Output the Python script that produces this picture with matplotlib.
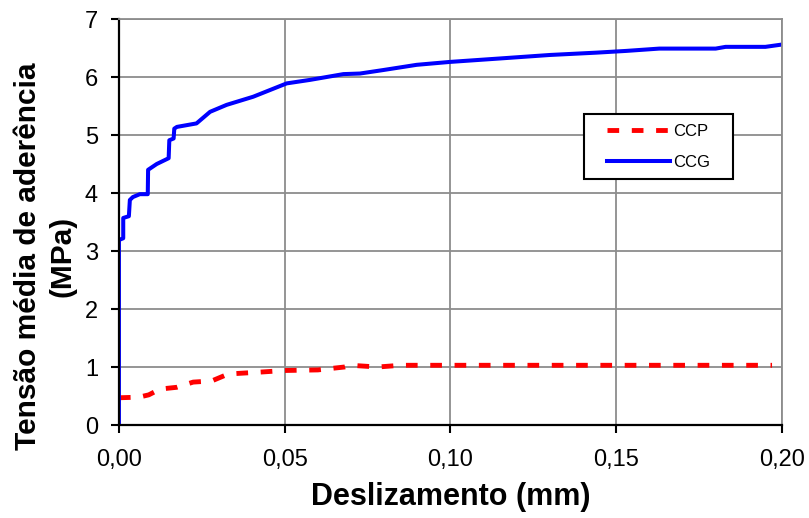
import matplotlib
matplotlib.use('Agg')
import matplotlib.pyplot as plt
from matplotlib.path import Path

plt.rcParams['font.family'] = ['Liberation Sans', 'DejaVu Sans']

# CCG - curva azul (deslizamento em mm, tensao em MPa)
ccg_x = [0.0000, 0.0000, 0.0013, 0.0013, 0.0030, 0.0033, 0.0042, 0.0063, 0.0087,
         0.0088, 0.0114, 0.0150, 0.0152, 0.0165, 0.0167, 0.0175, 0.0234, 0.0275,
         0.0325, 0.0405, 0.0506, 0.0576, 0.0677, 0.0727, 0.0797, 0.0898, 0.0998,
         0.1150, 0.1300, 0.1440, 0.1530, 0.1630, 0.1800, 0.1830, 0.1950, 0.2000]
ccg_y = [0.00, 3.19, 3.22, 3.57, 3.60, 3.88, 3.93, 3.98, 3.98,
         4.40, 4.50, 4.60, 4.91, 4.94, 5.11, 5.14, 5.20, 5.40,
         5.52, 5.66, 5.89, 5.95, 6.05, 6.06, 6.12, 6.21, 6.26,
         6.32, 6.38, 6.42, 6.45, 6.49, 6.49, 6.52, 6.52, 6.56]

# CCP - curva vermelha tracejada
ccp_x = [0.0000, 0.0060, 0.0090, 0.0124, 0.0174, 0.0224, 0.0280, 0.0330, 0.0420,
         0.0500, 0.0600, 0.0680, 0.0700, 0.0780, 0.0850, 0.1970]
ccp_y = [0.47, 0.48, 0.52, 0.62, 0.65, 0.74, 0.76, 0.88, 0.91,
         0.94, 0.95, 1.00, 1.03, 1.00, 1.03, 1.03]

x_ticks = [0.00, 0.05, 0.10, 0.15, 0.20]
x_labels = ['0,00', '0,05', '0,10', '0,15', '0,20']
y_ticks = [0, 1, 2, 3, 4, 5, 6, 7]
y_labels = ['0', '1', '2', '3', '4', '5', '6', '7']


def caixa_larga(x0, y0, width, height, mutation_size):
    # moldura da legenda com folga horizontal extra
    dx = 0.8 * mutation_size
    return Path([(x0 - dx, y0), (x0 + width + dx, y0), (x0 + width + dx, y0 + height),
                 (x0 - dx, y0 + height), (x0 - dx, y0)], closed=True)


fig = plt.figure(figsize=(8.09, 5.18), dpi=100)
ax = fig.add_axes([0.147, 0.1795, 0.8196, 0.7838])

ax.plot(ccp_x, ccp_y, color='#ff0000', lw=3.5, dashes=(2.4, 2.6),
        solid_capstyle='butt', label='CCP')
ax.plot(ccg_x, ccg_y, color='#0000ff', lw=2.9, label='CCG')

ax.set_xlim(0, 0.20)
ax.set_ylim(0, 7)
ax.set_xticks(x_ticks)
ax.set_xticklabels(x_labels)
ax.set_yticks(y_ticks)
ax.set_yticklabels(y_labels)
ax.tick_params(axis='both', labelsize=17, length=6, width=1.5, direction='out')
ax.tick_params(axis='x', pad=11)
ax.tick_params(axis='y', pad=9)

ax.grid(True, color='#8c8c8c', lw=1.3)
ax.set_axisbelow(True)
for s in ['left', 'bottom']:
    ax.spines[s].set_linewidth(1.6)
    ax.spines[s].set_color('black')
for s in ['top', 'right']:
    ax.spines[s].set_linewidth(1.3)
    ax.spines[s].set_color('#8c8c8c')

ax.set_xlabel('Deslizamento (mm)', fontsize=22, fontweight='bold')
ax.xaxis.set_label_coords(0.5, -0.14)
ax.xaxis.label.set_va('top')
fig.text(45 / 809, 1 - 256 / 518, 'Tensão média de aderência\n(MPa)', rotation=90,
         ha='center', va='center', multialignment='center', fontsize=21.5,
         fontweight='bold', linespacing=1.3)

leg = ax.legend(loc='center', bbox_to_anchor=(0.814, 0.685), fontsize=12,
                handlelength=3.8, handletextpad=0.2, labelspacing=1.0,
                borderpad=0.55, fancybox=False, framealpha=1, edgecolor='black')
leg.get_frame().set_linewidth(1.5)
leg.get_frame().set_boxstyle(caixa_larga)

fig.savefig('out.png', dpi=100)
